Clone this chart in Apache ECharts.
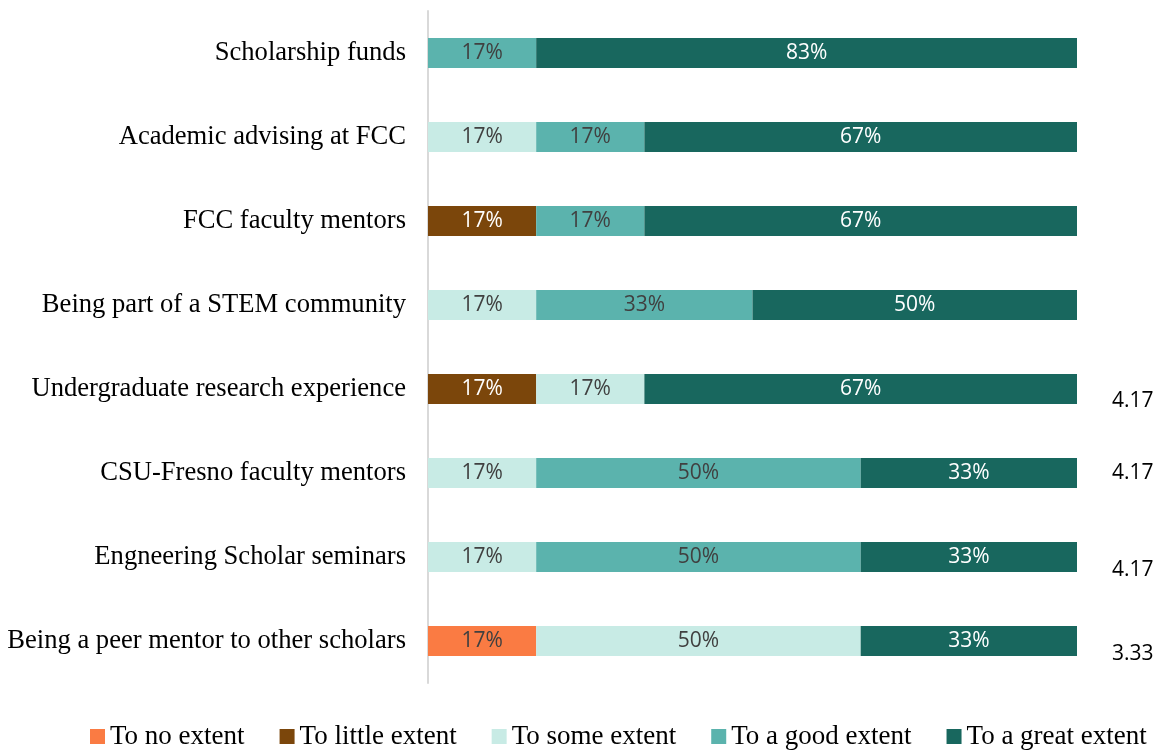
<!DOCTYPE html>
<html>
<head>
<meta charset="utf-8">
<script src="https://cdn.jsdelivr.net/npm/echarts@6/dist/echarts.min.js"></script>
<style>
	html, body { margin: 0; padding: 0; background: #fff; }
	#chart { width: 1160px; height: 750px; }
</style>
</head>
<body>
<div id="chart"></div>
<script>
	// items, top to bottom
	var categories = [
		'Scholarship funds',
		'Academic advising at FCC',
		'FCC faculty mentors',
		'Being part of a STEM community',
		'Undergraduate research experience',
		'CSU-Fresno faculty mentors',
		'Engneering Scholar seminars',
		'Being a peer mentor to other scholars'
	];
	var noExtent     = [0, 0, 0, 0, 0, 0, 0, 16.67];
	var littleExtent = [0, 0, 16.67, 0, 16.67, 0, 0, 0];
	var someExtent   = [0, 16.67, 0, 16.67, 16.67, 16.67, 16.67, 50];
	var goodExtent   = [16.67, 16.67, 16.67, 33.33, 0, 50, 50, 0];
	var greatExtent  = [83.33, 66.67, 66.67, 50, 66.67, 33.33, 33.33, 33.33];
	var meanScores = ['4.17', '4.17', '4.17', '3.33'];

	var myChart = echarts.init(document.getElementById('chart'));

	function makeSeries(name, data, color, labelColor) {
		return {
			name: name,
			type: 'bar',
			stack: 'total',
			barWidth: '36%',
			data: data,
			itemStyle: { color: color },
			label: {
				show: true,
				position: 'inside',
				color: labelColor,
				fontFamily: 'Open Sans, Noto Sans, sans-serif',
				fontSize: 21,
				formatter: function (p) {
					return p.value > 0 ? Math.round(p.value) + '%' : '';
				}
			}
		};
	}

	// mean scores sit loosely to the right of the lower bars
	var scoreY = [404, 476, 573, 657];
	var graphics = [];
	for (var i = 0; i < meanScores.length; i++) {
		graphics.push({
			type: 'text',
			left: 1112,
			top: scoreY[i] - 13,
			style: {
				text: meanScores[i],
				fill: '#000',
				fontFamily: 'Open Sans, Noto Sans, sans-serif',
				fontSize: 21
			}
		});
	}

	myChart.setOption({
		animation: false,
		grid: { left: 428, right: 83, top: 11, height: 672, outerBoundsMode: 'none' },
		xAxis: {
			type: 'value',
			min: 0,
			max: 100,
			show: false
		},
		yAxis: {
			type: 'category',
			inverse: true,
			data: categories,
			axisLine: { show: true, lineStyle: { color: '#d9d9d9', width: 2 } },
			axisTick: { show: false },
			axisLabel: {
				color: '#000',
				fontFamily: 'Liberation Serif, Times New Roman, serif',
				fontSize: 26.6,
				margin: 22
			}
		},
		legend: {
			bottom: -5,
			left: 85,
			itemWidth: 15,
			itemHeight: 15,
			itemGap: 35,
			icon: 'rect',
			textStyle: {
				color: '#000',
				fontFamily: 'Liberation Serif, Times New Roman, serif',
				fontSize: 27
			}
		},
		graphic: graphics,
		series: [
			makeSeries('To no extent', noExtent, '#fa7b43', '#404040'),
			makeSeries('To little extent', littleExtent, '#7b460b', '#ffffff'),
			makeSeries('To some extent', someExtent, '#c8ebe5', '#404040'),
			makeSeries('To a good extent', goodExtent, '#5bb3ad', '#404040'),
			makeSeries('To a great extent', greatExtent, '#18675e', '#ffffff')
		]
	});
</script>
</body>
</html>
